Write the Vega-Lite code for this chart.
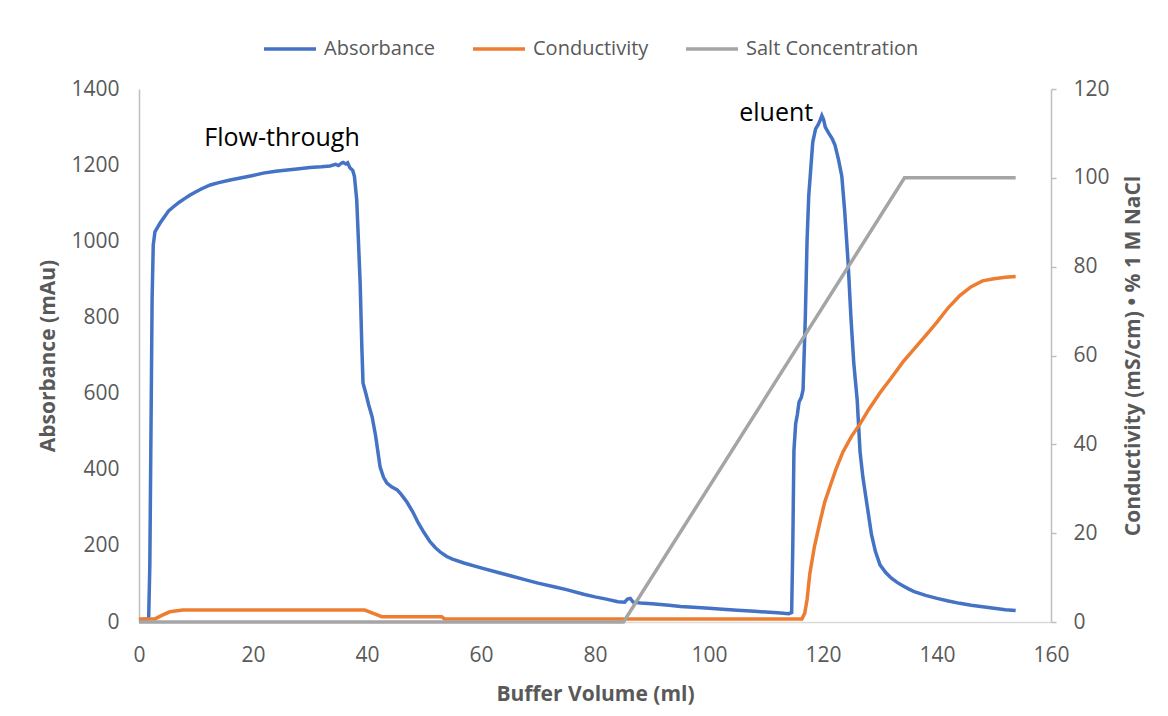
{
  "$schema": "https://vega.github.io/schema/vega-lite/v6.json",
  "width": 912,
  "height": 533,
  "autosize": {"type": "none"},
  "padding": {"left": 139, "top": 89, "right": 117, "bottom": 94},
  "background": "white",
  "config": {"font": "Open Sans", "view": {"stroke": null}, "axis": {"grid": false}},
  "datasets": {
    "absorbance": [
      {"series": "Absorbance", "ml": 0, "value": 5},
      {"series": "Absorbance", "ml": 1.5, "value": 8},
      {"series": "Absorbance", "ml": 1.7, "value": 12},
      {"series": "Absorbance", "ml": 1.9, "value": 150},
      {"series": "Absorbance", "ml": 2.1, "value": 500},
      {"series": "Absorbance", "ml": 2.3, "value": 850},
      {"series": "Absorbance", "ml": 2.5, "value": 990},
      {"series": "Absorbance", "ml": 2.8, "value": 1025},
      {"series": "Absorbance", "ml": 3.2, "value": 1035},
      {"series": "Absorbance", "ml": 3.7, "value": 1048},
      {"series": "Absorbance", "ml": 4.5, "value": 1065},
      {"series": "Absorbance", "ml": 5.2, "value": 1080},
      {"series": "Absorbance", "ml": 6, "value": 1090},
      {"series": "Absorbance", "ml": 7, "value": 1102},
      {"series": "Absorbance", "ml": 8, "value": 1112},
      {"series": "Absorbance", "ml": 8.9, "value": 1121},
      {"series": "Absorbance", "ml": 10, "value": 1130},
      {"series": "Absorbance", "ml": 11, "value": 1138},
      {"series": "Absorbance", "ml": 12.5, "value": 1148},
      {"series": "Absorbance", "ml": 14, "value": 1154},
      {"series": "Absorbance", "ml": 16, "value": 1161},
      {"series": "Absorbance", "ml": 18, "value": 1167},
      {"series": "Absorbance", "ml": 20, "value": 1173},
      {"series": "Absorbance", "ml": 21.8, "value": 1179},
      {"series": "Absorbance", "ml": 24, "value": 1184},
      {"series": "Absorbance", "ml": 26, "value": 1187},
      {"series": "Absorbance", "ml": 27.7, "value": 1190},
      {"series": "Absorbance", "ml": 30, "value": 1194},
      {"series": "Absorbance", "ml": 32, "value": 1196},
      {"series": "Absorbance", "ml": 33.5, "value": 1198},
      {"series": "Absorbance", "ml": 34.5, "value": 1202},
      {"series": "Absorbance", "ml": 35, "value": 1199},
      {"series": "Absorbance", "ml": 35.5, "value": 1205},
      {"series": "Absorbance", "ml": 35.8, "value": 1207},
      {"series": "Absorbance", "ml": 36.3, "value": 1203},
      {"series": "Absorbance", "ml": 36.6, "value": 1206},
      {"series": "Absorbance", "ml": 37, "value": 1193},
      {"series": "Absorbance", "ml": 37.5, "value": 1186},
      {"series": "Absorbance", "ml": 37.8, "value": 1170},
      {"series": "Absorbance", "ml": 38.2, "value": 1108},
      {"series": "Absorbance", "ml": 38.5, "value": 1000},
      {"series": "Absorbance", "ml": 38.8, "value": 890},
      {"series": "Absorbance", "ml": 39.1, "value": 720},
      {"series": "Absorbance", "ml": 39.3, "value": 628},
      {"series": "Absorbance", "ml": 39.8, "value": 600},
      {"series": "Absorbance", "ml": 40.3, "value": 570},
      {"series": "Absorbance", "ml": 40.9, "value": 539},
      {"series": "Absorbance", "ml": 41.5, "value": 490},
      {"series": "Absorbance", "ml": 42.3, "value": 407},
      {"series": "Absorbance", "ml": 42.9, "value": 380},
      {"series": "Absorbance", "ml": 43.5, "value": 365},
      {"series": "Absorbance", "ml": 44.3, "value": 355},
      {"series": "Absorbance", "ml": 45.3, "value": 347},
      {"series": "Absorbance", "ml": 46, "value": 335},
      {"series": "Absorbance", "ml": 47, "value": 315},
      {"series": "Absorbance", "ml": 48, "value": 290},
      {"series": "Absorbance", "ml": 49, "value": 260},
      {"series": "Absorbance", "ml": 50, "value": 235},
      {"series": "Absorbance", "ml": 51, "value": 212},
      {"series": "Absorbance", "ml": 52, "value": 195},
      {"series": "Absorbance", "ml": 53, "value": 182},
      {"series": "Absorbance", "ml": 54, "value": 172},
      {"series": "Absorbance", "ml": 55, "value": 165},
      {"series": "Absorbance", "ml": 57, "value": 155},
      {"series": "Absorbance", "ml": 60, "value": 142},
      {"series": "Absorbance", "ml": 63, "value": 130},
      {"series": "Absorbance", "ml": 65, "value": 122},
      {"series": "Absorbance", "ml": 68, "value": 110},
      {"series": "Absorbance", "ml": 70, "value": 102},
      {"series": "Absorbance", "ml": 73, "value": 92},
      {"series": "Absorbance", "ml": 75, "value": 85},
      {"series": "Absorbance", "ml": 78, "value": 73},
      {"series": "Absorbance", "ml": 80, "value": 66},
      {"series": "Absorbance", "ml": 82, "value": 60},
      {"series": "Absorbance", "ml": 84, "value": 53},
      {"series": "Absorbance", "ml": 85.2, "value": 52},
      {"series": "Absorbance", "ml": 85.7, "value": 60},
      {"series": "Absorbance", "ml": 86.2, "value": 62},
      {"series": "Absorbance", "ml": 86.7, "value": 52},
      {"series": "Absorbance", "ml": 88, "value": 50},
      {"series": "Absorbance", "ml": 90, "value": 48},
      {"series": "Absorbance", "ml": 93, "value": 44},
      {"series": "Absorbance", "ml": 95, "value": 41},
      {"series": "Absorbance", "ml": 98, "value": 38},
      {"series": "Absorbance", "ml": 100, "value": 36},
      {"series": "Absorbance", "ml": 103, "value": 33},
      {"series": "Absorbance", "ml": 105, "value": 31},
      {"series": "Absorbance", "ml": 108, "value": 28},
      {"series": "Absorbance", "ml": 110, "value": 26},
      {"series": "Absorbance", "ml": 112, "value": 24},
      {"series": "Absorbance", "ml": 114, "value": 22},
      {"series": "Absorbance", "ml": 114.5, "value": 25},
      {"series": "Absorbance", "ml": 114.7, "value": 200},
      {"series": "Absorbance", "ml": 114.9, "value": 450},
      {"series": "Absorbance", "ml": 115.2, "value": 520},
      {"series": "Absorbance", "ml": 115.5, "value": 545},
      {"series": "Absorbance", "ml": 115.8, "value": 578},
      {"series": "Absorbance", "ml": 116.2, "value": 590},
      {"series": "Absorbance", "ml": 116.5, "value": 610},
      {"series": "Absorbance", "ml": 116.9, "value": 800},
      {"series": "Absorbance", "ml": 117.2, "value": 1000},
      {"series": "Absorbance", "ml": 117.5, "value": 1120},
      {"series": "Absorbance", "ml": 117.8, "value": 1180},
      {"series": "Absorbance", "ml": 118.2, "value": 1260},
      {"series": "Absorbance", "ml": 118.7, "value": 1295},
      {"series": "Absorbance", "ml": 119.1, "value": 1305},
      {"series": "Absorbance", "ml": 119.5, "value": 1318},
      {"series": "Absorbance", "ml": 119.8, "value": 1330},
      {"series": "Absorbance", "ml": 120.1, "value": 1320},
      {"series": "Absorbance", "ml": 120.4, "value": 1300},
      {"series": "Absorbance", "ml": 121, "value": 1284},
      {"series": "Absorbance", "ml": 121.6, "value": 1270},
      {"series": "Absorbance", "ml": 122.1, "value": 1253},
      {"series": "Absorbance", "ml": 122.7, "value": 1216},
      {"series": "Absorbance", "ml": 123.3, "value": 1171},
      {"series": "Absorbance", "ml": 123.8, "value": 1080},
      {"series": "Absorbance", "ml": 124.4, "value": 945},
      {"series": "Absorbance", "ml": 124.9, "value": 800},
      {"series": "Absorbance", "ml": 125.4, "value": 680},
      {"series": "Absorbance", "ml": 126, "value": 583},
      {"series": "Absorbance", "ml": 126.5, "value": 447},
      {"series": "Absorbance", "ml": 127, "value": 380},
      {"series": "Absorbance", "ml": 127.7, "value": 310},
      {"series": "Absorbance", "ml": 128.5, "value": 230},
      {"series": "Absorbance", "ml": 129.2, "value": 185},
      {"series": "Absorbance", "ml": 130, "value": 150},
      {"series": "Absorbance", "ml": 131, "value": 130},
      {"series": "Absorbance", "ml": 132, "value": 115},
      {"series": "Absorbance", "ml": 133, "value": 104},
      {"series": "Absorbance", "ml": 134, "value": 95},
      {"series": "Absorbance", "ml": 135, "value": 87},
      {"series": "Absorbance", "ml": 136, "value": 80},
      {"series": "Absorbance", "ml": 138, "value": 70},
      {"series": "Absorbance", "ml": 140, "value": 62},
      {"series": "Absorbance", "ml": 142, "value": 55},
      {"series": "Absorbance", "ml": 144, "value": 49},
      {"series": "Absorbance", "ml": 146, "value": 44},
      {"series": "Absorbance", "ml": 148, "value": 40},
      {"series": "Absorbance", "ml": 150, "value": 36},
      {"series": "Absorbance", "ml": 152, "value": 32},
      {"series": "Absorbance", "ml": 153.8, "value": 30}
    ],
    "secondary": [
      {"series": "Conductivity", "ml": 0, "value": 0.7},
      {"series": "Conductivity", "ml": 2.8, "value": 0.7},
      {"series": "Conductivity", "ml": 4, "value": 1.5},
      {"series": "Conductivity", "ml": 5.4, "value": 2.3},
      {"series": "Conductivity", "ml": 7.7, "value": 2.7},
      {"series": "Conductivity", "ml": 39.6, "value": 2.7},
      {"series": "Conductivity", "ml": 41, "value": 2},
      {"series": "Conductivity", "ml": 42.6, "value": 1.2},
      {"series": "Conductivity", "ml": 53.1, "value": 1.2},
      {"series": "Conductivity", "ml": 53.6, "value": 0.7},
      {"series": "Conductivity", "ml": 116.3, "value": 0.7},
      {"series": "Conductivity", "ml": 116.8, "value": 2},
      {"series": "Conductivity", "ml": 117.2, "value": 5},
      {"series": "Conductivity", "ml": 117.7, "value": 11},
      {"series": "Conductivity", "ml": 118.5, "value": 17},
      {"series": "Conductivity", "ml": 119.5, "value": 22.7},
      {"series": "Conductivity", "ml": 120.3, "value": 27},
      {"series": "Conductivity", "ml": 121.2, "value": 30.4},
      {"series": "Conductivity", "ml": 122.3, "value": 34.5},
      {"series": "Conductivity", "ml": 123.5, "value": 38.3},
      {"series": "Conductivity", "ml": 125, "value": 41.8},
      {"series": "Conductivity", "ml": 126.5, "value": 44.6},
      {"series": "Conductivity", "ml": 128, "value": 47.8},
      {"series": "Conductivity", "ml": 130, "value": 51.6},
      {"series": "Conductivity", "ml": 132, "value": 55},
      {"series": "Conductivity", "ml": 134, "value": 58.5},
      {"series": "Conductivity", "ml": 136, "value": 61.5},
      {"series": "Conductivity", "ml": 138, "value": 64.5},
      {"series": "Conductivity", "ml": 140, "value": 67.5},
      {"series": "Conductivity", "ml": 142, "value": 70.8},
      {"series": "Conductivity", "ml": 144, "value": 73.5},
      {"series": "Conductivity", "ml": 146, "value": 75.5},
      {"series": "Conductivity", "ml": 148, "value": 76.8},
      {"series": "Conductivity", "ml": 150, "value": 77.3},
      {"series": "Conductivity", "ml": 152, "value": 77.6},
      {"series": "Conductivity", "ml": 153.8, "value": 77.8},
      {"series": "Salt Concentration", "ml": 0, "value": 0},
      {"series": "Salt Concentration", "ml": 85, "value": 0},
      {"series": "Salt Concentration", "ml": 134.3, "value": 100},
      {"series": "Salt Concentration", "ml": 153.8, "value": 100}
    ],
    "notes": [
      {"label": "Flow-through", "ml": 25.1, "value": 1271},
      {"label": "eluent", "ml": 111.8, "value": 1337}
    ]
  },
  "encoding": {
    "x": {
      "field": "ml", "type": "quantitative",
      "scale": {"domain": [0, 160], "nice": false},
      "axis": {
        "values": [0, 20, 40, 60, 80, 100, 120, 140, 160],
        "ticks": false, "labelFlush": false, "domainColor": "#D9D9D9", "domainWidth": 1.5,
        "labelFontSize": 21, "labelColor": "#595959", "labelPadding": 22,
        "title": "Buffer Volume (ml)", "titleFontSize": 21, "titleFontWeight": "bold",
        "titleColor": "#595959", "titlePadding": 18
      }
    }
  },
  "layer": [
    {
      "data": {"name": "absorbance"},
      "mark": {"type": "line", "strokeWidth": 3.5},
      "encoding": {
        "y": {
          "field": "value", "type": "quantitative",
          "scale": {"domain": [0, 1400], "nice": false},
          "axis": {
            "orient": "left", "format": "d",
            "values": [0, 200, 400, 600, 800, 1000, 1200, 1400],
            "ticks": false, "domainColor": "#BFBFBF", "domainWidth": 1.5,
            "labelFontSize": 21, "labelColor": "#595959", "labelPadding": 20,
            "title": "Absorbance (mAu)", "titleFontSize": 21, "titleFontWeight": "bold",
            "titleColor": "#595959", "titlePadding": 12
          }
        },
        "color": {
          "field": "series", "type": "nominal",
          "scale": {"domain": ["Absorbance", "Conductivity", "Salt Concentration"], "range": ["#4472C4", "#ED7D31", "#A5A5A5"]},
          "legend": {
            "orient": "none", "legendX": 123, "legendY": -68, "direction": "horizontal",
            "title": null, "symbolType": "stroke", "symbolStrokeWidth": 3.5, "symbolSize": 2700,
            "labelFontSize": 20, "labelColor": "#595959", "labelOffset": 6, "labelLimit": 400,
            "columnPadding": 30
          }
        }
      }
    },
    {
      "data": {"name": "secondary"},
      "mark": {"type": "line", "strokeWidth": 3.5},
      "encoding": {
        "y": {
          "field": "value", "type": "quantitative",
          "scale": {"domain": [0, 120], "nice": false},
          "axis": {
            "orient": "right",
            "values": [0, 20, 40, 60, 80, 100, 120],
            "ticks": true, "tickSize": 5, "tickColor": "#BFBFBF", "tickWidth": 1.5,
            "domainColor": "#BFBFBF", "domainWidth": 1.5,
            "labelFontSize": 21, "labelColor": "#595959", "labelPadding": 17,
            "title": "Conductivity (mS/cm) • % 1 M NaCl", "titleAngle": 270, "titleBaseline": "top",
            "titleFontSize": 21, "titleFontWeight": "bold",
            "titleColor": "#595959", "titlePadding": 13
          }
        },
        "color": {"field": "series", "type": "nominal"}
      }
    },
    {
      "data": {"name": "notes"},
      "mark": {"type": "text", "fontSize": 25, "color": "#000000", "baseline": "middle", "align": "center"},
      "encoding": {
        "y": {"field": "value", "type": "quantitative", "scale": {"domain": [0, 1400], "nice": false}, "axis": null},
        "text": {"field": "label"}
      }
    }
  ],
  "resolve": {"scale": {"y": "independent"}}
}
